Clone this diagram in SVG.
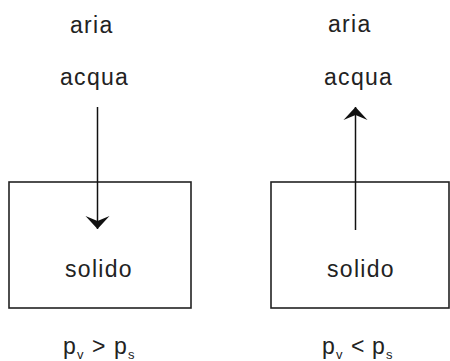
<svg xmlns="http://www.w3.org/2000/svg" width="450" height="361" viewBox="0 0 450 361">
<style>
text{font-family:"Liberation Sans",Arial,sans-serif;font-size:23px;fill:#222;letter-spacing:1.3px}
.box{fill:none;stroke:#222;stroke-width:1.6}
.conn{stroke:#111;stroke-width:1.5;fill:none}
.sub{font-size:13px}
</style>
<defs>
<marker id="ah" markerUnits="userSpaceOnUse" markerWidth="30" markerHeight="30" viewBox="-15 -15 30 30" refX="0" refY="0" orient="auto" overflow="visible">
<path d="M0,0 L-13,-12 L-8,0 L-13,12 Z" fill="#111"/>
</marker>
</defs>
<rect width="450" height="361" fill="#fff"/>
<g id="left-aria"><text x="70" y="33">aria</text></g>
<g id="left-acqua"><text x="60" y="85">acqua</text></g>
<g id="left-solido"><rect class="box" x="9" y="182" width="182" height="126"/><text x="65" y="277">solido</text></g>
<g id="left-label"><text y="354"><tspan x="63">p</tspan><tspan class="sub" x="77" y="359">v</tspan><tspan x="92" y="354">&gt;</tspan><tspan x="114">p</tspan><tspan class="sub" x="128" y="359">s</tspan></text></g>
<g id="right-aria"><text x="328" y="32">aria</text></g>
<g id="right-acqua"><text x="324" y="85">acqua</text></g>
<g id="right-solido"><rect class="box" x="271" y="182" width="178" height="126"/><text x="327" y="277">solido</text></g>
<g id="right-label"><text y="354"><tspan x="322">p</tspan><tspan class="sub" x="336" y="359">v</tspan><tspan x="351" y="354">&lt;</tspan><tspan x="372">p</tspan><tspan class="sub" x="386" y="359">s</tspan></text></g>
<g id="connectors">
<line class="conn" x1="97.5" y1="107" x2="97.5" y2="229" marker-end="url(#ah)"/>
<line class="conn" x1="355.5" y1="230" x2="355.5" y2="107" marker-end="url(#ah)"/>
</g>
</svg>
